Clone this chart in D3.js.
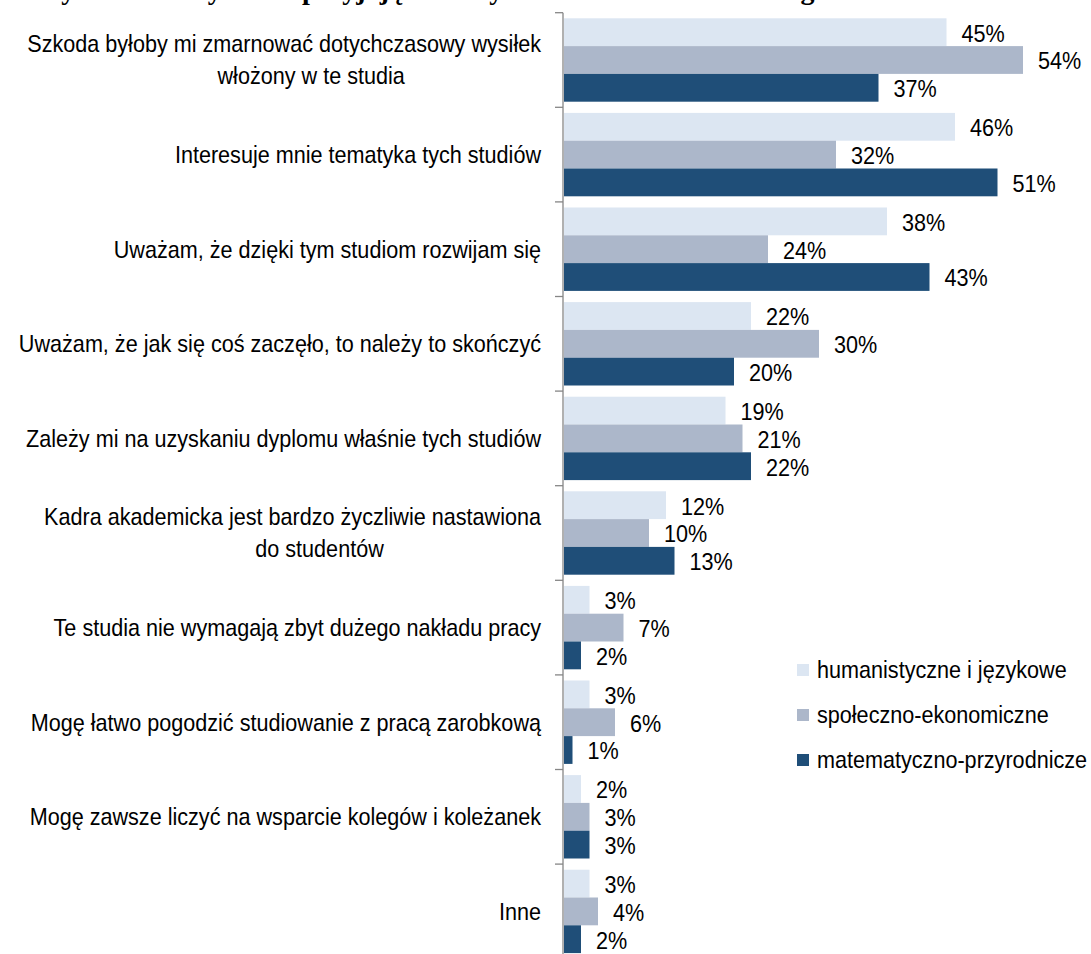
<!DOCTYPE html>
<meta charset="utf-8">
<style>
    body { margin: 0; background: #fff; }
    svg { display: block; }
    text { font-family: "Liberation Sans", Arial, sans-serif; fill: #000; }
    .title { font-family: "Liberation Serif", "Times New Roman", serif; font-weight: bold; }
</style>
<svg width="1091" height="954"></svg>
<script src="https://cdnjs.cloudflare.com/ajax/libs/d3/7.8.5/d3.min.js"></script>
<script>

    var categories = [
        "Szkoda byłoby mi zmarnować dotychczasowy wysiłek\nwłożony w te studia",
        "Interesuje mnie tematyka tych studiów",
        "Uważam, że dzięki tym studiom rozwijam się",
        "Uważam, że jak się coś zaczęło, to należy to skończyć",
        "Zależy mi na uzyskaniu dyplomu właśnie tych studiów",
        "Kadra akademicka jest bardzo życzliwie nastawiona\ndo studentów",
        "Te studia nie wymagają zbyt dużego nakładu pracy",
        "Mogę łatwo pogodzić studiowanie z pracą zarobkową",
        "Mogę zawsze liczyć na wsparcie kolegów i koleżanek",
        "Inne"
    ];
    var seriesNames = ["humanistyczne i językowe", "społeczno-ekonomiczne", "matematyczno-przyrodnicze"];
    var humanistyczne = [45, 46, 38, 22, 19, 12, 3, 3, 2, 3];
    var spoleczne     = [54, 32, 24, 30, 21, 10, 7, 6, 3, 4];
    var matematyczne  = [37, 51, 43, 20, 22, 13, 2, 1, 3, 2];
    var titleText = "Wykres 12. Czynniki sprzyjające kontynuowaniu studiów według obszaru kształcenia";

    var colors = ["#dce6f2", "#acb7ca", "#1f4e78"];
    var seriesValues = [humanistyczne, spoleczne, matematyczne];
    var sx = 0.9; // glyphs in the picture are slightly narrow

    var svg = d3.select("svg");

    var y = d3.scaleBand().domain(categories).range([12.7, 958.7]).padding(0);
    var yInner = d3.scaleBand().domain(d3.range(3)).range([5.6, y.bandwidth() - 5.6]).padding(0);
    var x = d3.scaleLinear().domain([0, 60]).range([564, 1074]);

    // title, mostly above the top edge as in the source
    svg.append("text").attr("class", "title")
        .attr("x", 545).attr("y", -1)
        .attr("text-anchor", "middle")
        .attr("font-size", 28)
        .text(titleText);

    // bars
    var group = svg.selectAll(".grp")
        .data(categories)
        .enter().append("g")
        .attr("class", "grp")
        .attr("transform", function(d) { return "translate(0," + y(d) + ")"; });

    group.selectAll("rect")
        .data(function(d, i) { return seriesValues.map(function(s, k) { return {k: k, v: s[i]}; }); })
        .enter().append("rect")
        .attr("x", x(0))
        .attr("y", function(d) { return yInner(d.k); })
        .attr("width", function(d) { return x(d.v) - x(0); })
        .attr("height", yInner.bandwidth())
        .attr("fill", function(d) { return colors[d.k]; });

    group.selectAll(".val")
        .data(function(d, i) { return seriesValues.map(function(s, k) { return {k: k, v: s[i]}; }); })
        .enter().append("g")
        .attr("class", "val")
        .attr("transform", function(d) {
            return "translate(" + (x(d.v) + 15) + "," + (yInner(d.k) + yInner.bandwidth() / 2 + 1) + ") scale(" + sx + ",1)";
        })
        .append("text")
        .attr("font-size", 24)
        .attr("dy", "0.35em")
        .text(function(d) { return d.v + "%"; });

    // axis line and ticks at category boundaries
    svg.append("line")
        .attr("x1", x(0) - 1).attr("x2", x(0) - 1)
        .attr("y1", y.range()[0]).attr("y2", y.range()[1])
        .attr("stroke", "#868686").attr("stroke-width", 1.3);

    var bounds = categories.map(function(d) { return y(d); }).concat([y.range()[1]]);
    svg.selectAll(".tick")
        .data(bounds)
        .enter().append("line")
        .attr("class", "tick")
        .attr("x1", x(0) - 9).attr("x2", x(0) - 1)
        .attr("y1", function(d) { return d; }).attr("y2", function(d) { return d; })
        .attr("stroke", "#868686").attr("stroke-width", 1.3);

    // category labels
    var lab = svg.selectAll(".cat")
        .data(categories)
        .enter().append("g")
        .attr("class", "cat")
        .attr("transform", function(d) { return "translate(541," + (y(d) + y.bandwidth() / 2) + ") scale(" + sx + ",1)"; });

    lab.each(function(d) {
        var g = d3.select(this);
        var lines = d.split("\n");
        var lh = 32;
        var first = g.append("text")
            .attr("font-size", 24)
            .attr("text-anchor", "end")
            .attr("dy", "0.35em")
            .attr("y", -(lines.length - 1) * lh / 2)
            .text(lines[0]);
        if (lines.length > 1) {
            var w = first.node().getComputedTextLength();
            g.append("text")
                .attr("font-size", 24)
                .attr("text-anchor", "middle")
                .attr("dy", "0.35em")
                .attr("x", -w / 2 + 30)
                .attr("y", lh / 2)
                .text(lines[1]);
        }
    });

    // legend
    var legend = svg.selectAll(".leg")
        .data(seriesNames)
        .enter().append("g")
        .attr("class", "leg")
        .attr("transform", function(d, i) { return "translate(797," + (670 + i * 45) + ")"; });

    legend.append("rect")
        .attr("x", 0).attr("y", -6)
        .attr("width", 12).attr("height", 12)
        .attr("fill", function(d, i) { return colors[i]; });

    legend.append("g")
        .attr("transform", "translate(20,0) scale(" + sx + ",1)")
        .append("text")
        .attr("font-size", 24)
        .attr("dy", "0.35em")
        .text(function(d) { return d; });

</script>
